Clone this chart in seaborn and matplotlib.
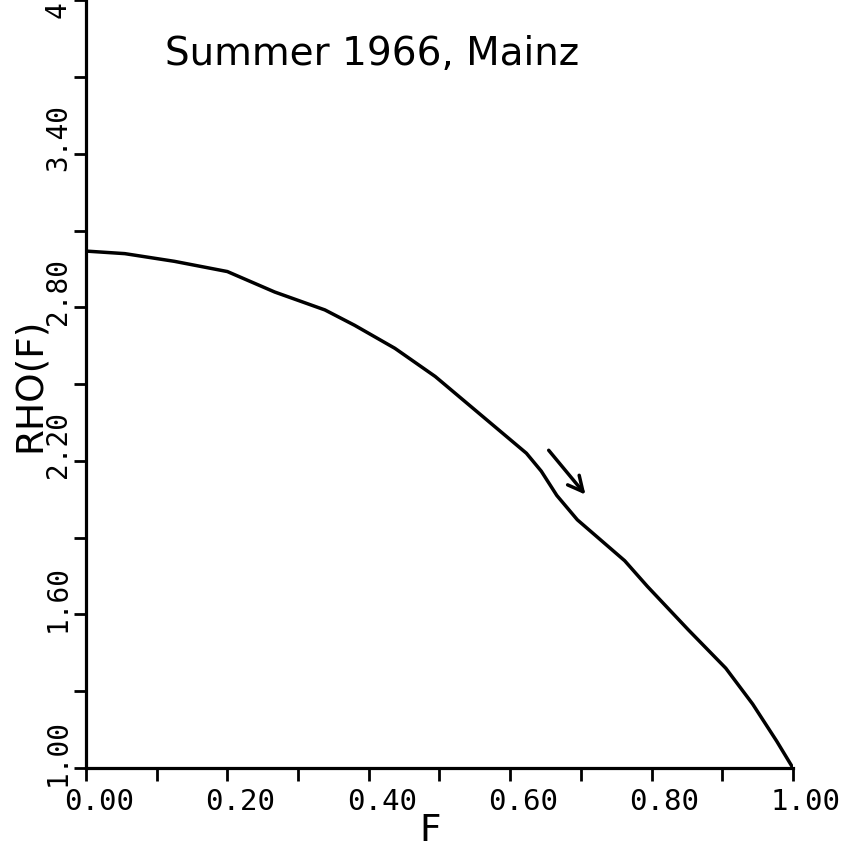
import matplotlib
matplotlib.use("Agg")
import matplotlib.pyplot as plt
import matplotlib.transforms as mtransforms
import seaborn as sns
import pandas as pd

# Fraction F and the estimated RHO(F) curve
F = [0.0, 0.055, 0.125, 0.20, 0.267, 0.338, 0.38, 0.437, 0.494, 0.537,
     0.58, 0.623, 0.644, 0.666, 0.695, 0.762, 0.794, 0.852, 0.905, 0.943,
     0.977, 1.0]
RHO = [3.02, 3.01, 2.98, 2.94, 2.86, 2.79, 2.73, 2.64, 2.53, 2.43,
       2.33, 2.23, 2.16, 2.065, 1.97, 1.81, 1.71, 1.54, 1.39, 1.25,
       1.105, 1.0]

# Tick positions and their labels (blank = unlabeled tick)
x_ticks = [0.0, 0.1, 0.2, 0.3, 0.4, 0.5, 0.6, 0.7, 0.8, 0.9, 1.0]
x_labels = ["0.00", "", "0.20", "", "0.40", "", "0.60", "", "0.80", "", "1.00"]
y_ticks = [1.0, 1.3, 1.6, 1.9, 2.2, 2.5, 2.8, 3.1, 3.4, 3.7, 4.0]
y_labels = ["1.00", "", "1.60", "", "2.20", "", "2.80", "", "3.40", "", "4.00"]

# Arrow showing the direction along the curve
arrow_start = (0.652, 2.25)
arrow_end = (0.709, 2.06)

title_text = "Summer 1966, Mainz"

sns.set_style("ticks")
plt.rcParams["font.family"] = ["DejaVu Sans"]
plt.rcParams["axes.labelcolor"] = "black"
plt.rcParams["text.color"] = "black"

df = pd.DataFrame({"F": F, "RHO": RHO})

fig = plt.figure(figsize=(8.51, 8.54), dpi=100)
ax = fig.add_axes([0.101, 0.0995, 0.9318 - 0.101, 0.9985 - 0.0995])

sns.lineplot(data=df, x="F", y="RHO", ax=ax, color="black", linewidth=2.5,
             sort=False, estimator=None)

ax.set_xlim(0, 1)
ax.set_ylim(1, 4)
ax.set_xticks(x_ticks)
ax.set_xticklabels(x_labels, fontfamily="DejaVu Sans Mono", fontsize=21)
ax.set_yticks(y_ticks)
ax.set_yticklabels(y_labels, fontfamily="DejaVu Sans Mono", fontsize=20,
                   rotation=90, va="center")

for side in ("top", "right"):
    ax.spines[side].set_visible(False)
for side in ("left", "bottom"):
    ax.spines[side].set_linewidth(2.3)
    ax.spines[side].set_color("black")

ax.tick_params(axis="both", direction="out", length=9, width=2.0,
               colors="black")
ax.tick_params(axis="x", pad=5)
ax.tick_params(axis="y", pad=1)

# Plotter-style label placement: x labels sit right of ticks, y labels above
for lbl in ax.get_xticklabels():
    lbl.set_transform(lbl.get_transform() +
                      mtransforms.ScaledTranslation(0.13, 0, fig.dpi_scale_trans))
for lbl in ax.get_yticklabels():
    lbl.set_transform(lbl.get_transform() +
                      mtransforms.ScaledTranslation(0, 0.17, fig.dpi_scale_trans))

ax.set_xlabel("F", fontsize=27, color="black")
ax.xaxis.set_label_coords(0.487, -0.057)
ax.set_ylabel("RHO(F)", fontsize=27, color="black")
ax.yaxis.set_label_coords(-0.054, 0.50)

ax.annotate("", xy=arrow_end, xytext=arrow_start,
            arrowprops=dict(arrowstyle="->", color="black", lw=2.5,
                            mutation_scale=27))

fig.text(165 / 851, 1 - 65 / 854, title_text, fontsize=28, va="baseline",
         ha="left", color="black")

fig.savefig("out.png", dpi=100)
